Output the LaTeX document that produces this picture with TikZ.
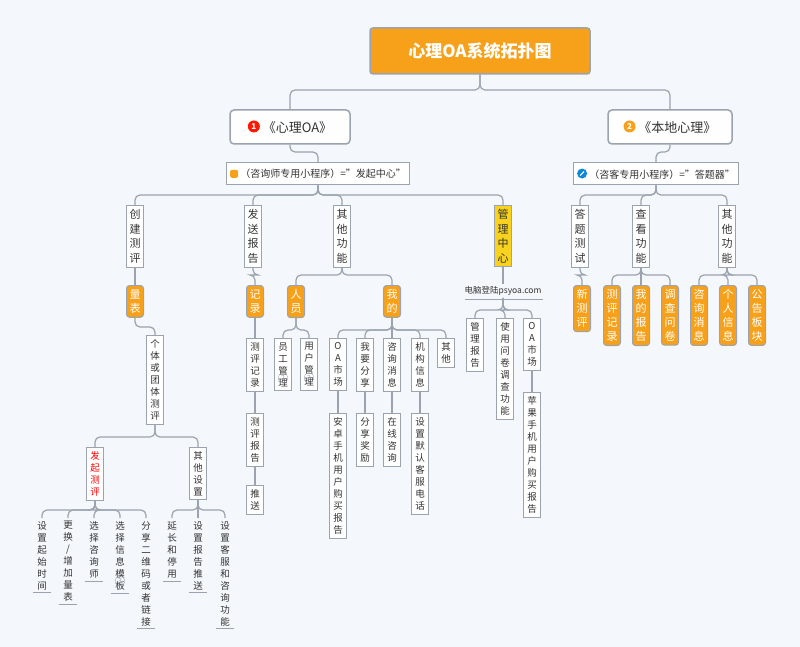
\documentclass[tikz,border=0pt]{standalone}
\usepackage{fontspec}
\setmainfont{Noto Sans CJK SC}
\usetikzlibrary{calc}
\definecolor{bg}{HTML}{F4F8FC}
\definecolor{org}{HTML}{F7A11A}
\definecolor{ln}{HTML}{9AA3AF}
\definecolor{yel}{HTML}{F8D21C}
\definecolor{txt}{HTML}{333333}
\tikzset{
 line/.style={draw=ln,line width=1.2pt,rounded corners=5pt},
 vb/.style={draw=ln,line width=1pt,fill=white,align=center,font=\fontsize{9.5}{12}\selectfont,text=txt,inner xsep=3pt,inner ysep=4pt,anchor=north,text width=11pt},
 ob/.style={vb,fill=org,draw=ln,text=white,font=\fontsize{11}{14}\selectfont,rounded corners=3pt},
 ul/.style={align=center,font=\fontsize{9.5}{12}\selectfont,text=txt,inner sep=3pt,anchor=north,text width=11pt},
 l3/.style={vb,font=\fontsize{11}{14.5}\selectfont,minimum height=60pt},
 circ/.style={circle,draw=ln,text=ln,inner sep=0.6pt,font=\fontsize{7}{7}\selectfont,minimum size=10pt},
}
\newcommand{\conn}[3]{\foreach \c in {#3}{\draw[line] (#1.south) -- (#1.south|-0,#2) -| (\c.north);}}
\begin{document}
\begin{tikzpicture}[x=1pt,y=-1pt]
\useasboundingbox[fill=bg] (0,0) rectangle (800,647);
% root
\node[draw=ln,fill=org,text=white,font=\fontsize{17}{20}\selectfont\bfseries,minimum width=220pt,minimum height=46pt,rounded corners=3pt,line width=1.5pt] (root) at (480,51) {心理OA系统拓扑图};
\node[draw=ln,fill=white!90!bg,line width=1.5pt,rounded corners=4pt,minimum width=120pt,minimum height=34pt,font=\fontsize{13}{15}\selectfont,text=txt] (L) at (290,127) {\tikz\node[circle,fill=red!80!orange,text=white,inner sep=1pt,font=\fontsize{8}{8}\selectfont\bfseries,minimum size=12pt]{1}; 《心理OA》};
\node[draw=ln,fill=white!90!bg,line width=1.5pt,rounded corners=4pt,minimum width=124pt,minimum height=34pt,font=\fontsize{13}{15}\selectfont,text=txt] (R) at (670,127) {\tikz\node[circle,fill=org,text=white,inner sep=1pt,font=\fontsize{8}{8}\selectfont\bfseries,minimum size=12pt]{2}; 《本地心理》};
\conn{root}{90}{L,R}
\node[draw=ln,fill=white,line width=1pt,minimum width=182pt,minimum height=22pt,font=\fontsize{10}{12}\selectfont,text=txt] (LS) at (318,174) {\tikz\fill[org,rounded corners=1.5pt](0,0)rectangle(8pt,8pt);\ （咨询师专用小程序）="发起中心"};
\node[draw=ln,fill=white,line width=1pt,minimum width=162pt,minimum height=22pt,font=\fontsize{10}{12}\selectfont,text=txt] (RS) at (656,174) {\tikz{\fill[cyan!70!blue](0,0)circle(5pt);\draw[white,line width=1pt](-2pt,-2pt)--(2pt,2pt);}\ （咨客专用小程序）="答题器"};
\draw[line] (L.south) -- (L.south|-0,152) -| (LS.north);
\draw[line] (R.south) -- (R.south|-0,152) -| (RS.north);
% level 3
\node[l3] (a1) at (135,205) {创\\建\\测\\评};
\node[l3] (a2) at (253,205) {发\\送\\报\\告};
\node[l3] (a3) at (342,205) {其\\他\\功\\能};
\node[l3,fill=yel] (a4) at (503,205) {管\\理\\中\\心};
\conn{LS}{195}{a1,a2,a3,a4}
\node[l3] (b1) at (580,205) {答\\题\\测\\试};
\node[l3] (b2) at (641,205) {查\\看\\功\\能};
\node[l3] (b3) at (727,205) {其\\他\\功\\能};
\conn{RS}{195}{b1,b2,b3}
% level 4
\node[ob] (q) at (135,285) {量\\表};
\draw[line] (a1.south)--(q.north);
\node[ob] (jl) at (255,285) {记\\录};
\draw[line] (a2.south)--(a2.south|-0,275)-|(jl.north);
\node[ob] (ry) at (296,285) {人\\员};
\node[ob] (wd) at (392,285) {我\\的};
\conn{a3}{275}{ry,wd}
\node[font=\fontsize{8.5}{10}\selectfont,text=txt,inner sep=2pt] (dn) at (503,291) {电脑登陆psyoa.com};
\draw[line] (a4.south)--(dn.north);
\draw[ln,line width=1pt] (465,299)--(543,299);
\node[ob] (c1) at (582,285) {新\\测\\评};
\conn{b1}{275}{c1}
\node[ob] (c2) at (612,285) {测\\评\\记\\录};
\node[ob] (c3) at (641,285) {我\\的\\报\\告};
\node[ob] (c4) at (670,285) {调\\查\\问\\卷};
\conn{b2}{275}{c2,c3,c4}
\node[ob] (c5) at (699,285) {咨\\询\\消\\息};
\node[ob] (c6) at (728,285) {个\\人\\信\\息};
\node[ob] (c7) at (757,285) {公\\告\\板\\块};
\conn{b3}{275}{c5,c6,c7}
% 量表 branch
\node[vb] (gt) at (155,335) {个\\体\\或\\团\\体\\测\\评};
\draw[line] (q.south)--(q.south|-0,327)-|(gt.north);
\node[vb,text=red] (fq) at (95,447) {发\\起\\测\\评};
\node[vb] (qs) at (198,447) {其\\他\\设\\置};
\conn{gt}{437}{fq,qs}
\node[ul] (u1) at (42,518) {设\\置\\起\\始\\时\\间};
\node[ul] (u2) at (68,518) {更\\换\\/\\增\\加\\量\\表};
\node[ul] (u3) at (94,518) {选\\择\\咨\\询\\师};
\node[ul] (u4) at (120,518) {选\\择\\信\\息\\模\\板};
\node[ul] (u5) at (146,518) {分\\享\\二\\维\\码\\或\\者\\链\\接};
\conn{fq}{510}{u1,u2,u3,u4,u5}
\node[ul] (u6) at (172,518) {延\\长\\和\\停\\用};
\node[ul] (u7) at (198,518) {设\\置\\报\\告\\推\\送};
\node[ul] (u8) at (225,518) {设\\置\\客\\服\\和\\咨\\询\\功\\能};
\conn{qs}{510}{u6,u7,u8}
\foreach \n in {u1,u2,u3,u4,u5,u6,u7,u8}{\draw[ln,line width=1pt] ([xshift=-9pt]\n.south)--([xshift=9pt]\n.south);}
\node[circ] (k3) at ([yshift=12pt]u4.south) {3};
% 记录 column
\node[vb] (r1) at (255,338) {测\\评\\记\\录};
\node[vb] (r2) at (255,413) {测\\评\\报\\告};
\node[vb] (r3) at (255,485) {推\\送};
\draw[line] (jl.south)--(r1.north); \draw[line] (r1.south)--(r2.north); \draw[line] (r2.south)--(r3.north);
% 人员
\node[vb] (p1) at (283,338) {员\\工\\管\\理};
\node[vb] (p2) at (309,338) {用\\户\\管\\理};
\conn{ry}{330}{p1,p2}
\node[circ] at ([yshift=13pt]p1.south) {2};
\node[circ] at ([yshift=13pt]p2.south) {2};
% 我的
\node[vb] (m1) at (338,338) {O\\A\\市\\场};
\node[vb] (m2) at (365,338) {我\\要\\分\\享};
\node[vb] (m3) at (392,338) {咨\\询\\消\\息};
\node[vb] (m4) at (420,338) {机\\构\\信\\息};
\node[vb] (m5) at (446,338) {其\\他};
\conn{wd}{330}{m1,m2,m3,m4,m5}
\node[vb] (n1) at (338,413) {安\\卓\\手\\机\\用\\户\\购\\买\\报\\告};
\node[vb] (n2) at (365,413) {分\\享\\奖\\励};
\node[vb] (n3) at (392,413) {在\\线\\咨\\询};
\node[vb] (n4) at (420,413) {设\\置\\默\\认\\客\\服\\电\\话};
\foreach \a/\b in {m1/n1,m2/n2,m3/n3,m4/n4}{\draw[line] (\a.south)--(\b.north);}
% 管理中心
\node[vb] (g1) at (475,318) {管\\理\\报\\告};
\node[vb] (g2) at (505,318) {使\\用\\问\\卷\\调\\查\\功\\能};
\node[vb] (g3) at (532,318) {O\\A\\市\\场};
\conn{dn}{310}{g1,g2,g3}
\node[vb] (g4) at (532,392) {苹\\果\\手\\机\\用\\户\\购\\买\\报\\告};
\draw[line] (g3.south)--(g4.north);
\end{tikzpicture}
\end{document}
